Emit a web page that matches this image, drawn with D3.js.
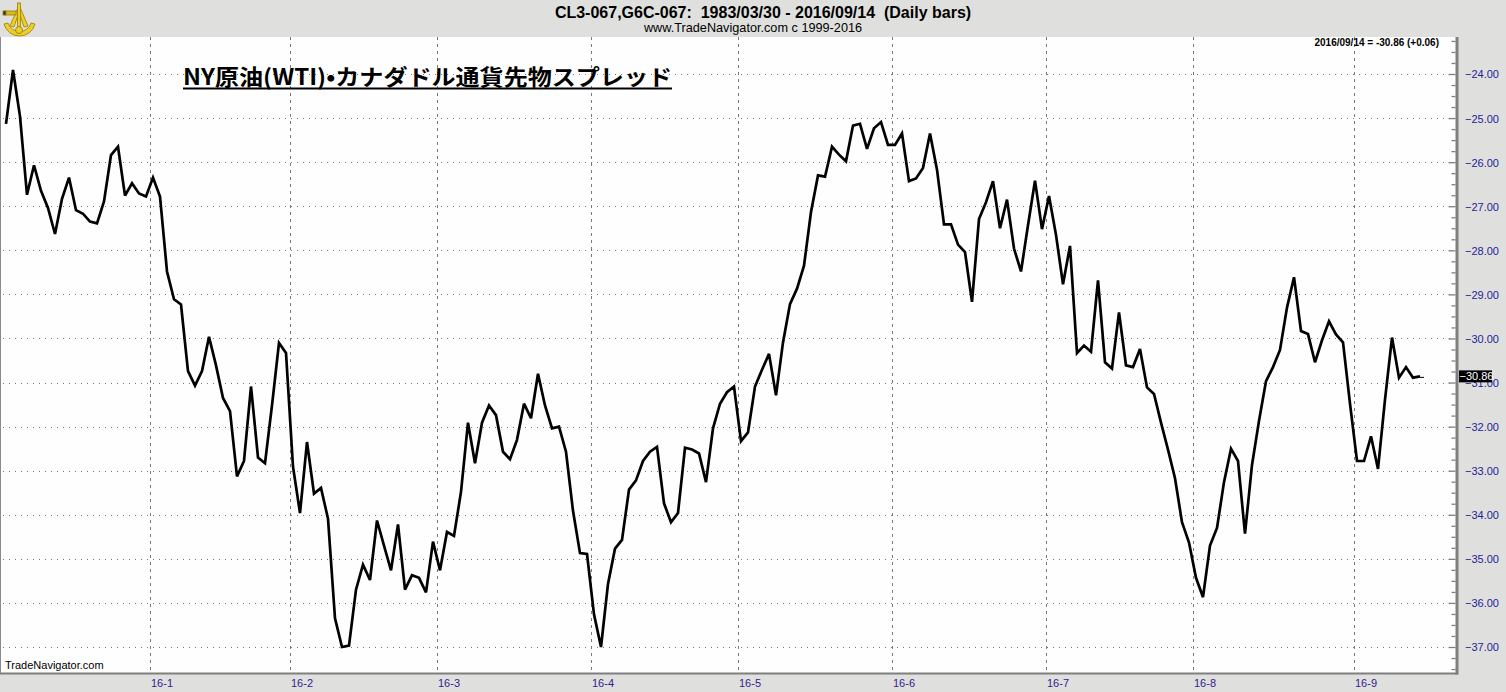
<!DOCTYPE html>
<html><head><meta charset="utf-8">
<script src="https://cdn.jsdelivr.net/npm/d3@7"></script>
<style>body{margin:0;background:#dfe0dd}svg{display:block}</style>
</head><body>
<svg id="c" width="1506" height="692"></svg>
<script>
// ---- data (daily closes, index = trading bar) ----
const values = [
-25.13,-23.91,-24.96,-26.74,-26.07,-26.65,-27.04,-27.63,-26.83,-26.35,
-27.09,-27.17,-27.35,-27.39,-26.89,-25.84,-25.65,-26.76,-26.48,-26.71,
-26.78,-26.35,-26.78,-28.48,-29.11,-29.23,-30.74,-31.07,-30.74,-29.96,
-30.61,-31.35,-31.65,-33.13,-32.78,-31.09,-32.70,-32.83,-31.52,-30.10,
-30.33,-32.91,-33.96,-32.35,-33.52,-33.39,-34.09,-36.35,-37.00,-36.97,
-35.70,-35.13,-35.48,-34.13,-34.70,-35.26,-34.22,-35.70,-35.37,-35.43,
-35.76,-34.61,-35.26,-34.39,-34.48,-33.48,-31.91,-32.83,-31.91,-31.52,
-31.74,-32.57,-32.74,-32.30,-31.48,-31.81,-30.80,-31.52,-32.04,-32.00,
-32.57,-33.91,-34.87,-34.89,-36.26,-37.00,-35.57,-34.77,-34.57,-33.43,
-33.22,-32.78,-32.57,-32.46,-33.74,-34.17,-33.96,-32.48,-32.52,-32.61,
-33.26,-32.04,-31.48,-31.22,-31.09,-32.33,-32.13,-31.09,-30.71,-30.35,
-31.29,-30.09,-29.22,-28.87,-28.35,-27.13,-26.30,-26.33,-25.65,-25.83,
-25.98,-25.17,-25.13,-25.70,-25.23,-25.09,-25.61,-25.61,-25.35,-26.43,
-26.37,-26.13,-25.35,-26.17,-27.41,-27.41,-27.87,-28.04,-29.17,-27.29,
-26.91,-26.43,-27.50,-26.85,-27.96,-28.48,-27.43,-26.42,-27.52,-26.77,
-27.65,-28.77,-27.90,-30.33,-30.16,-30.30,-28.68,-30.54,-30.68,-29.41,
-30.61,-30.65,-30.24,-31.11,-31.26,-31.91,-32.52,-33.17,-34.17,-34.63,
-35.43,-35.87,-34.70,-34.30,-33.26,-32.50,-32.78,-34.43,-32.87,-31.87,
-30.97,-30.65,-30.26,-29.30,-28.61,-29.83,-29.90,-30.54,-30.04,-29.61,
-29.91,-30.09,-31.48,-32.78,-32.78,-32.22,-32.96,-31.39,-29.98,-30.89,
-30.65,-30.89,-30.86
];
const monthLabels = ["16-1","16-2","16-3","16-4","16-5","16-6","16-7","16-8","16-9"];
const monthStartIdx = [21,41,62,84,105,127,149,170,193];
const yTickValues = [-24,-25,-26,-27,-28,-29,-30,-31,-32,-33,-34,-35,-36,-37];
const headerText = "CL3-067,G6C-067:  1983/03/30 - 2016/09/14  (Daily bars)";
const subText = "www.TradeNavigator.com c 1999-2016";
const titleText = "NY原油(WTI)•カナダドル通貨先物スプレッド";
const lastLabel = "2016/09/14 = -30.86 (+0.06)";
const lastValue = -30.86;

const svg = d3.select("#c");
const W = 1506, H = 692;
const plotL = 1, plotR = 1457, plotT = 37, plotB = 673;

const x = d3.scaleLinear().domain([0, values.length - 1]).range([6, 1420]);
const y = d3.scaleLinear().domain([-24, -37]).range([74, 647]);

svg.append("rect").attr("width", W).attr("height", H).attr("fill", "#dfe0dd");
svg.append("rect").attr("x", plotL).attr("y", plotT).attr("width", plotR - plotL).attr("height", plotB - plotT).attr("fill", "#fefefe");

// horizontal dotted grid
svg.append("g").selectAll("line").data(yTickValues).join("line")
  .attr("x1", 3).attr("x2", plotR - 2)
  .attr("y1", d => Math.round(y(d)) + 0.5).attr("y2", d => Math.round(y(d)) + 0.5)
  .attr("stroke", "#7a7a7a").attr("stroke-width", 1).attr("stroke-dasharray", "1,5");

// vertical dashed month grid
const monthPos = monthStartIdx.map(i => i - 0.5);
svg.append("g").selectAll("line").data(monthPos).join("line")
  .attr("x1", d => Math.round(x(d)) + 0.5).attr("x2", d => Math.round(x(d)) + 0.5)
  .attr("y1", plotT).attr("y2", plotB)
  .attr("stroke", "#7a7a7a").attr("stroke-width", 1).attr("stroke-dasharray", "3,4");

// title
const tg = svg.append("g");
tg.append("text").attr("x", 183).attr("y", 85)
  .attr("font-family", "'Noto Sans CJK JP', sans-serif").attr("font-weight", 700)
  .attr("font-size", 22).attr("fill", "#000")
  .attr("textLength", 489).attr("lengthAdjust", "spacingAndGlyphs")
  .text(titleText);
tg.append("rect").attr("x", 183).attr("y", 87.5).attr("width", 489).attr("height", 2).attr("fill", "#000");

// the spread line
const line = d3.line().x((d, i) => x(i)).y(d => y(d));
svg.append("path").datum(values).attr("d", line)
  .attr("fill", "none").attr("stroke", "#000").attr("stroke-width", 2.7)
  .attr("stroke-linejoin", "miter").attr("stroke-miterlimit", 3);

// borders
svg.append("line").attr("x1", 0.5).attr("x2", 0.5).attr("y1", plotT).attr("y2", plotB + 1)
  .attr("stroke", "#8a8a8a").attr("stroke-width", 1);
svg.append("line").attr("x1", 0).attr("x2", plotR + 1).attr("y1", plotB + 0.5).attr("y2", plotB + 0.5)
  .attr("stroke", "#7f7f7f").attr("stroke-width", 2);
svg.append("line").attr("x1", plotR).attr("x2", plotR).attr("y1", plotT).attr("y2", plotB + 1.5)
  .attr("stroke", "#7f7f7f").attr("stroke-width", 3);

// y axis ticks (major + minor) pointing into plot
const minorTicks = [];
for (let k = -23; k >= -38; k--) { for (const f of [0.25, 0.5, 0.75]) { const v = k - f; if (v <= -23.1 && v >= -37.7) minorTicks.push(v); } }
const majAxis = d3.axisLeft(y).tickValues(yTickValues).tickSize(7).tickFormat("");
const minAxis = d3.axisLeft(y).tickValues(minorTicks).tickSize(4).tickFormat("");
const ga = svg.append("g").attr("transform", `translate(${plotR - 1.5},0)`).call(majAxis);
const gm = svg.append("g").attr("transform", `translate(${plotR - 1.5},0)`).call(minAxis);
[ga, gm].forEach(g => { g.select(".domain").remove(); g.selectAll("line").attr("stroke", "#7f7f7f").attr("stroke-width", 1.3); });

// y labels
const labAxis = d3.axisRight(y).tickValues(yTickValues).tickSize(0).tickPadding(0).tickFormat(d3.format(".2f"));
const gl = svg.append("g").attr("transform", `translate(1465,0)`).call(labAxis);
gl.select(".domain").remove();
gl.selectAll("text").attr("font-family", "'Liberation Sans', Arial, sans-serif").attr("font-size", 11).attr("fill", "#22229a").attr("dy", "0.36em");

// x labels
const xAxis = d3.axisBottom(x).tickValues(monthPos).tickSize(0).tickPadding(0).tickFormat((d, i) => monthLabels[i]);
const gx = svg.append("g").attr("transform", `translate(0,677)`).call(xAxis);
gx.select(".domain").remove();
gx.selectAll("text").attr("font-family", "'Liberation Sans', Arial, sans-serif").attr("font-size", 11)
  .attr("fill", "#34208e").attr("text-anchor", "start").attr("dx", 1).attr("dy", "0.9em");

// last value tag
const yl = y(lastValue);
svg.append("rect").attr("x", 1459).attr("y", yl - 6).attr("width", 33).attr("height", 12).attr("fill", "#000");
svg.append("text").attr("x", 1459.5).attr("y", yl + 4).attr("font-family", "'Liberation Sans', Arial, sans-serif")
  .attr("font-size", 11).attr("fill", "#fff").text(d3.format(".2f")(lastValue));
svg.append("line").attr("x1", 1420).attr("x2", 1424).attr("y1", yl + 1).attr("y2", yl + 1).attr("stroke", "#000").attr("stroke-width", 1);

// header
svg.append("text").attr("x", 763).attr("y", 18).attr("text-anchor", "middle")
  .attr("font-family", "'Liberation Sans', Arial, sans-serif").attr("font-weight", 700).attr("font-size", 16)
  .style("white-space", "pre").attr("fill", "#000").text(headerText);
svg.append("text").attr("x", 753).attr("y", 32).attr("text-anchor", "middle")
  .attr("font-family", "'Liberation Sans', Arial, sans-serif").attr("font-size", 12.7).attr("fill", "#000").text(subText);
svg.append("text").attr("x", 1439).attr("y", 46).attr("text-anchor", "end")
  .attr("font-family", "'Liberation Sans', Arial, sans-serif").attr("font-weight", 700).attr("font-size", 10).attr("fill", "#000").text(lastLabel);
svg.append("text").attr("x", 5).attr("y", 669)
  .attr("font-family", "'Liberation Sans', Arial, sans-serif").attr("font-size", 11).attr("fill", "#000").text("TradeNavigator.com");

// sextant logo
const lg = svg.append("g").attr("stroke", "#9a7d00").attr("stroke-width", 0.8).attr("fill", "#ecce2c");
lg.append("path").attr("d", "M4,24 A16,16 0 0 0 35,24 L31,23 A12,12 0 0 1 8,23 Z");
lg.append("path").attr("d", "M19,5 L10,26 L14,27 L19,12 L24,27 L28,26 Z");
lg.append("rect").attr("x", 17.5).attr("y", 3).attr("width", 3).attr("height", 30);
lg.append("rect").attr("x", 4).attr("y", 11).attr("width", 12).attr("height", 4).attr("fill", "#d9b81c");
lg.append("rect").attr("x", 3).attr("y", 11).attr("width", 3).attr("height", 4).attr("fill", "#333");
lg.append("circle").attr("cx", 19).attr("cy", 30).attr("r", 3.5);
</script>
</body></html>
